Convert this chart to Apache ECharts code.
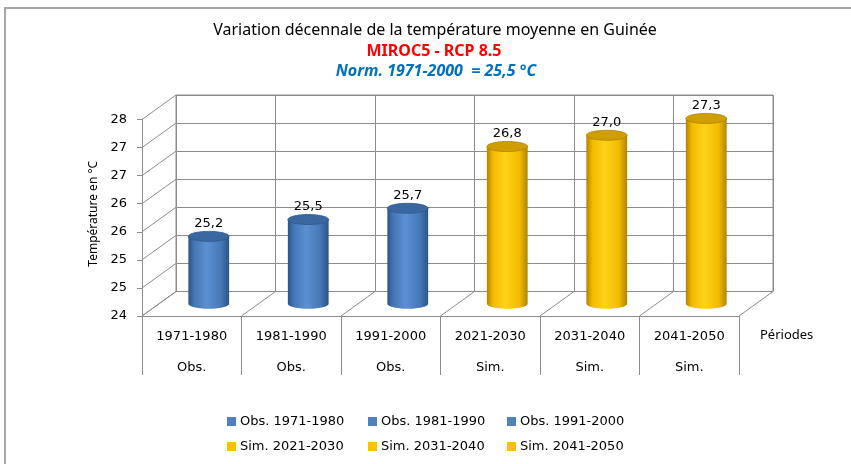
<!DOCTYPE html>
<html>
<head>
<meta charset="utf-8">
<script src="https://cdn.jsdelivr.net/npm/echarts@6/dist/echarts.min.js"></script>
<style>
  html, body { margin: 0; padding: 0; background: #fff; }
  #chart { width: 851px; height: 464px; }
</style>
</head>
<body>
<div id="chart"></div>
<script>
// données
const categories = ["1971-1980", "1981-1990", "1991-2000", "2021-2030", "2031-2040", "2041-2050"];
const groups = ["Obs.", "Obs.", "Obs.", "Sim.", "Sim.", "Sim."];
const values = [25.2, 25.5, 25.7, 26.8, 27.0, 27.3];
const seriesNames = ["Obs. 1971-1980", "Obs. 1981-1990", "Obs. 1991-2000",
                     "Sim. 2021-2030", "Sim. 2031-2040", "Sim. 2041-2050"];
const yMin = 24, yMax = 27.5, yStep = 0.5;

// palette cylindres
const blue = { edge: "#2b5587", light: "#5b90d2", mid: "#4677b6", top: "#3a67a0", rim: "#2e5889", legend: "#4f81bd" };
const gold = { edge: "#b08400", light: "#ffd21a", mid: "#f2bb00", top: "#cf9e00", rim: "#ad8300", legend: "#ffc000" };

// profondeur 3D (décalage fond / face)
const DX = 34, DY = -24.5;
const GRID_COLOR = "#8c8c8c";
const NUM_FONT = "DejaVu Sans";

const chart = echarts.init(document.getElementById("chart"));

const wallTicks = [];
for (let v = yMin; v <= yMax + 1e-9; v += yStep) wallTicks.push([0, v]);
const floorBounds = [];
for (let k = 0; k <= categories.length; k++) floorBounds.push([0, yMin, k]);

function band(api) {
  return api.size([1, 0])[0];
}

// lignes du mur gauche
function renderWall(params, api) {
  const p = api.coord([0, api.value(1)]);
  const x = p[0] - band(api) / 2;
  return {
    type: "line",
    shape: { x1: x, y1: p[1], x2: x + DX, y2: p[1] + DY },
    style: { stroke: GRID_COLOR, lineWidth: 1 },
  };
}

// lignes du sol
function renderFloor(params, api) {
  const p = api.coord([0, yMin]);
  const x = p[0] - band(api) / 2 + api.value(2) * band(api);
  return {
    type: "line",
    shape: { x1: x, y1: p[1], x2: x + DX, y2: p[1] + DY },
    style: { stroke: GRID_COLOR, lineWidth: 1 },
  };
}

function ellipsePts(cx, cy, rx, ry, t0, t1, n) {
  const pts = [];
  for (let i = 0; i <= n; i++) {
    const t = t0 + (t1 - t0) * i / n;
    pts.push([cx + rx * Math.cos(t), cy + ry * Math.sin(t)]);
  }
  return pts;
}

function makeCylinder(pal) {
  return function (params, api) {
    const idx = api.value(0);
    const val = api.value(1);
    const base = api.coord([idx, yMin]);
    const top = api.coord([idx, val]);
    const cx = base[0] + DX / 2;
    const by = base[1] + DY / 2;
    const ty = top[1] + DY / 2;
    const rx = band(api) * 0.205;
    const ry = 5;
    const body = [[cx - rx, ty], [cx - rx, by]]
      .concat(ellipsePts(cx, by, rx, ry, Math.PI, 0, 30))
      .concat([[cx + rx, ty]]);
    return {
      type: "group",
      children: [
        {
          type: "polygon",
          shape: { points: body },
          style: {
            fill: new echarts.graphic.LinearGradient(0, 0, 1, 0, [
              { offset: 0, color: pal.edge },
              { offset: 0.15, color: pal.mid },
              { offset: 0.45, color: pal.light },
              { offset: 0.8, color: pal.mid },
              { offset: 1, color: pal.edge },
            ]),
          },
        },
        {
          type: "polygon",
          shape: { points: ellipsePts(cx, ty, rx, ry, 0, Math.PI * 2, 40) },
          style: { fill: pal.top, stroke: pal.rim, lineWidth: 0.8 },
        },
        {
          type: "text",
          x: cx,
          y: ty - 13,
          style: {
            text: val.toFixed(1).replace(".", ","),
            align: "center",
            verticalAlign: "middle",
            font: "13px '" + NUM_FONT + "'",
            fill: "#000",
          },
        },
      ],
    };
  };
}

const cylSeries = seriesNames.map((name, i) => {
  const pal = groups[i] === "Obs." ? blue : gold;
  return {
    name: name,
    type: "custom",
    xAxisIndex: 0,
    yAxisIndex: 0,
    clip: false,
    z: 5,
    itemStyle: { color: pal.legend },
    renderItem: makeCylinder(pal),
    data: [[i, values[i]]],
    encode: { x: 0, y: 1 },
  };
});

const legends = seriesNames.map((name, i) => ({
  data: [name],
  left: [222, 363, 502][i % 3],
  top: i < 3 ? 410 : 435,
  icon: "rect",
  itemWidth: 9,
  itemHeight: 9,
  itemGap: 0,
  selectedMode: false,
  textStyle: { fontFamily: NUM_FONT, fontSize: 13, color: "#000", padding: [0, 0, 0, -1] },
}));

const option = {
  animation: false,
  backgroundColor: "#fff",
  graphic: [
    {
      type: "rect",
      shape: { x: 5, y: 8, width: 900, height: 520 },
      style: { fill: "none", stroke: "#a6a6a6", lineWidth: 2 },
      silent: true,
    },
    {
      type: "text", x: 435, y: 30,
      style: { text: "Variation décennale de la température moyenne en Guinée",
               align: "center", verticalAlign: "middle",
               font: "16px 'Noto Sans'", fill: "#000" },
    },
    {
      type: "text", x: 434, y: 51,
      style: { text: "MIROC5 - RCP 8.5", align: "center", verticalAlign: "middle",
               font: "bold 16px 'Noto Sans'", fill: "#ff0000" },
    },
    {
      type: "text", x: 436, y: 71,
      style: { text: "Norm. 1971-2000  = 25,5 °C", align: "center", verticalAlign: "middle",
               font: "italic bold 16px 'Noto Sans'", fill: "#0070c0" },
    },
    {
      type: "text", x: 760, y: 335,
      style: { text: "Périodes", align: "left", verticalAlign: "middle",
               font: "13px 'Noto Sans'", fill: "#000" },
    },
  ],
  legend: legends,
  grid: [
    { left: 142, top: 119.5, width: 597, height: 196.5, outerBoundsMode: "none", containLabel: false },
    { left: 176, top: 95, width: 597, height: 196.5, outerBoundsMode: "none", containLabel: false,
      show: true, borderColor: GRID_COLOR, borderWidth: 1, backgroundColor: "transparent" },
  ],
  xAxis: [
    {
      type: "category",
      gridIndex: 0,
      data: categories,
      axisLine: { show: true, lineStyle: { color: GRID_COLOR, width: 1 } },
      axisTick: { show: true, length: 59, interval: 0, alignWithLabel: false,
                  lineStyle: { color: GRID_COLOR, width: 1 } },
      axisLabel: {
        interval: 0,
        margin: 5,
        formatter: (v, i) => "{a|" + v + "}\n{b|" + groups[i] + "}",
        rich: {
          a: { fontFamily: NUM_FONT, fontSize: 13, color: "#000", lineHeight: 31 },
          b: { fontFamily: NUM_FONT, fontSize: 13, color: "#000", lineHeight: 31 },
        },
      },
      splitLine: { show: false },
    },
    {
      type: "category",
      gridIndex: 1,
      data: categories,
      axisLine: { show: false },
      axisTick: { show: false },
      axisLabel: { show: false },
      splitLine: { show: true, interval: 0, lineStyle: { color: GRID_COLOR, width: 1 } },
    },
  ],
  yAxis: [
    {
      type: "value",
      gridIndex: 0,
      min: yMin,
      max: yMax,
      interval: yStep,
      name: "Température en °C",
      nameLocation: "middle",
      nameRotate: 90,
      nameGap: 38,
      nameTextStyle: { fontFamily: "Noto Sans", fontSize: 12, color: "#000", padding: [0, 0, 0, 8] },
      axisLine: { show: true, lineStyle: { color: GRID_COLOR, width: 1 } },
      axisTick: { show: true, length: 5, lineStyle: { color: GRID_COLOR, width: 1 } },
      axisLabel: {
        margin: 15,
        fontFamily: NUM_FONT,
        fontSize: 13,
        color: "#000",
        formatter: (v) => String(Math.round(v)),
      },
      splitLine: { show: false },
    },
    {
      type: "value",
      gridIndex: 1,
      min: yMin,
      max: yMax,
      interval: yStep,
      axisLine: { show: false },
      axisTick: { show: false },
      axisLabel: { show: false },
      splitLine: { show: true, lineStyle: { color: GRID_COLOR, width: 1 } },
    },
  ],
  series: [
    {
      type: "custom",
      name: "mur",
      xAxisIndex: 0,
      yAxisIndex: 0,
      clip: false,
      silent: true,
      renderItem: renderWall,
      data: wallTicks,
      encode: { x: 0, y: 1 },
    },
    {
      type: "custom",
      name: "sol",
      xAxisIndex: 0,
      yAxisIndex: 0,
      clip: false,
      silent: true,
      renderItem: renderFloor,
      data: floorBounds,
      encode: { x: 0, y: 1 },
    },
  ].concat(cylSeries),
};

chart.setOption(option);
window.addEventListener("resize", () => chart.resize());
</script>
</body>
</html>
